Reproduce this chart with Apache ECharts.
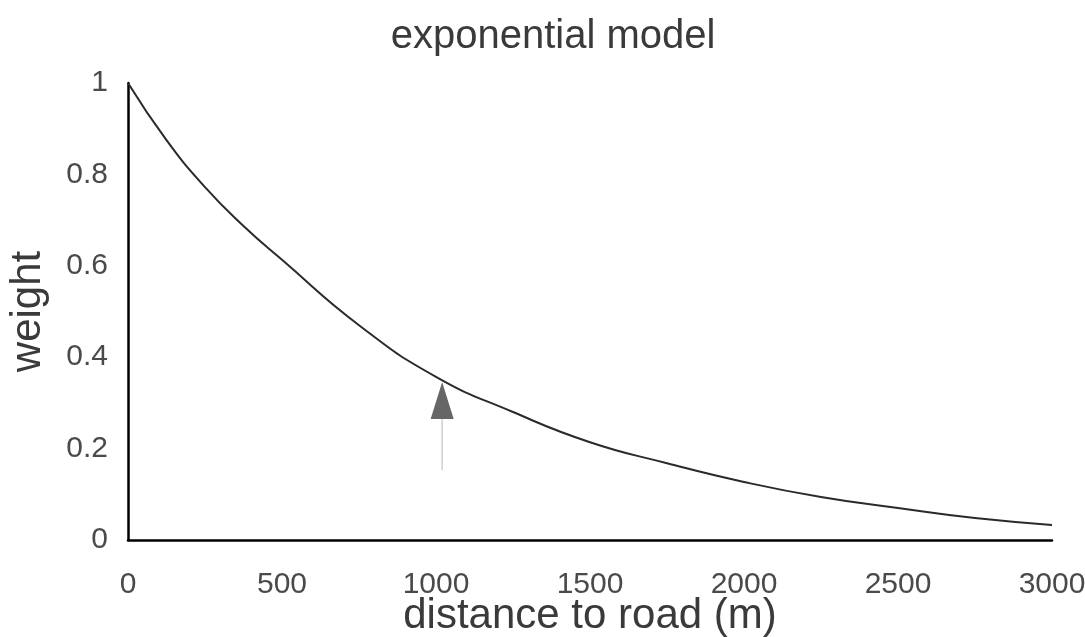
<!DOCTYPE html>
<html>
<head>
<meta charset="utf-8">
<script src="https://cdn.jsdelivr.net/npm/echarts@6/dist/echarts.min.js"></script>
<style>
  html, body { margin: 0; padding: 0; background: #fff; }
  #chart { width: 1085px; height: 637px; }
</style>
</head>
<body>
<div id="chart"></div>
<script>
// distances (m) and weights
var distances = [0, 125, 250, 375, 500, 750, 1000, 1250, 1500, 1750, 2000, 2250, 2500, 2750, 3000];
var weights = [1.0, 0.875, 0.772, 0.687, 0.613, 0.470, 0.357, 0.28, 0.214, 0.168, 0.127, 0.094, 0.070, 0.048, 0.033];

// arrow under the curve near 1000 m
var arrowX = 1020;
var arrowStem = [0.153, 0.265];
var arrowHead = 0.305;

var chart = echarts.init(document.getElementById('chart'));

var font = 'Liberation Sans, Arial, sans-serif';

var option = {
  animation: false,
  backgroundColor: '#fff',
  title: {
    text: 'exponential model',
    left: 548,
    textAlign: 'center',
    top: 12,
    textStyle: { fontFamily: font, fontSize: 40, fontWeight: 'normal', color: '#3a3a3a' }
  },
  grid: { left: 128, right: 33, top: 83, bottom: 97, outerBoundsMode: 'none', containLabel: false },
  xAxis: {
    type: 'value',
    min: 0,
    max: 3000,
    interval: 500,
    name: 'distance to road (m)',
    nameLocation: 'middle',
    nameGap: 55,
    nameMoveOverlap: false,
    nameTextStyle: { fontFamily: font, fontSize: 42, color: '#3a3a3a' },
    axisLine: { show: true, lineStyle: { color: '#000', width: 2.5 } },
    axisTick: { show: false },
    splitLine: { show: false },
    axisLabel: {
      margin: 30,
      fontFamily: font,
      fontSize: 30,
      color: '#4a4a4a',
      formatter: function (v) { return String(v); }
    }
  },
  yAxis: {
    type: 'value',
    min: 0,
    max: 1,
    interval: 0.2,
    name: 'weight',
    nameLocation: 'middle',
    nameGap: 79,
    nameMoveOverlap: false,
    nameTextStyle: { fontFamily: font, fontSize: 42, color: '#3a3a3a' },
    axisLine: { show: true, lineStyle: { color: '#000', width: 2.5 } },
    axisTick: { show: false },
    splitLine: { show: false },
    axisLabel: {
      margin: 20,
      fontFamily: font,
      fontSize: 30,
      color: '#4a4a4a',
      formatter: function (v) {
        if (v === 0) return '0';
        if (v === 1) return '1';
        return v.toFixed(1);
      }
    }
  },
  series: [
    {
      type: 'line',
      data: distances.map(function (d, i) { return [d, weights[i]]; }),
      smooth: 0.5,
      showSymbol: false,
      lineStyle: { color: '#2a2a2a', width: 2 },
      silent: true
    },
    {
      type: 'line',
      data: [[arrowX, arrowStem[0]], [arrowX, arrowStem[1]]],
      showSymbol: false,
      lineStyle: { color: '#cfcfcf', width: 1.5 },
      silent: true
    },
    {
      type: 'scatter',
      data: [[arrowX, arrowHead]],
      symbol: 'triangle',
      symbolSize: [23, 37],
      itemStyle: { color: '#404040' },
      silent: true
    }
  ]
};

chart.setOption(option);
</script>
</body>
</html>
